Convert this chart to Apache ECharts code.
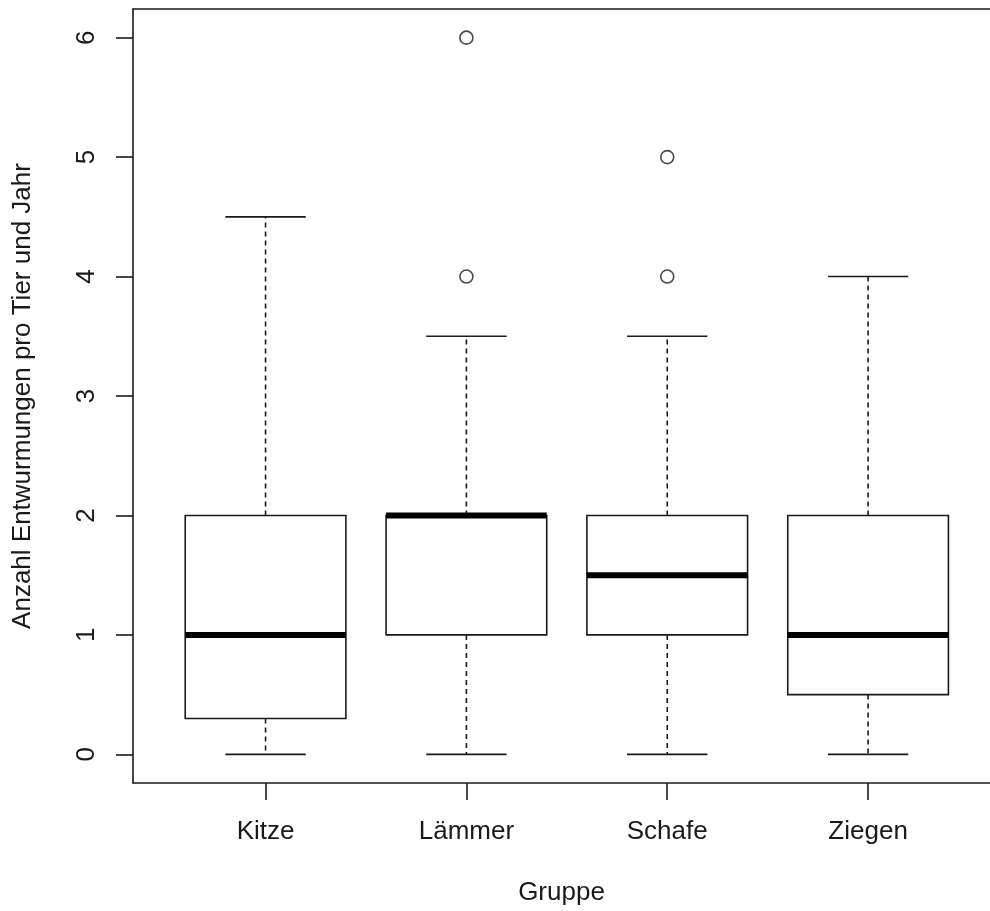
<!DOCTYPE html>
<html>
<head>
<meta charset="utf-8">
<script src="https://cdn.jsdelivr.net/npm/echarts@6/dist/echarts.min.js"></script>
<style>html,body{margin:0;padding:0;background:#fff;}#c{width:990px;height:911px;}</style>
</head>
<body>
<div id="c"></div>
<script>
const categories = ['Kitze', 'Lämmer', 'Schafe', 'Ziegen'];
const whiskerLow = [0, 0, 0, 0];
const q1 = [0.3, 1, 1, 0.5];
const median = [1, 2, 1.5, 1];
const q3 = [2, 2, 2, 2];
const whiskerHigh = [4.5, 3.5, 3.5, 4];
const outliers = [[], [4, 6], [4, 5], []];
const yTicks = [0, 1, 2, 3, 4, 5, 6];
const xTicks = [1, 2, 3, 4];
const xTitle = 'Gruppe';
const yTitle = 'Anzahl Entwurmungen pro Tier und Jahr';

const INK = '#1a1a1a';
const FONT = '"Liberation Sans", Arial, Helvetica, sans-serif';

const boxData = categories.map((c, i) => [i + 1, whiskerLow[i], q1[i], median[i], q3[i], whiskerHigh[i]]);
const outlierData = [];
outliers.forEach((arr, i) => arr.forEach(v => outlierData.push([i + 1, v])));

const chart = echarts.init(document.getElementById('c'), null, {renderer: 'canvas'});
chart.setOption({
  backgroundColor: '#fff',
  animation: false,
  grid: {left: 133, top: 9, right: 0, bottom: 128, show: false},
  xAxis: [{
    type: 'value', min: 0.34, max: 4.607, position: 'bottom',
    name: xTitle, nameLocation: 'middle', nameGap: 97,
    nameTextStyle: {fontFamily: FONT, fontSize: 26, color: INK},
    axisLine: {show: true, onZero: false, lineStyle: {color: INK, width: 1.6}},
    splitLine: {show: false},
    axisTick: {show: true, length: 17, customValues: xTicks, lineStyle: {color: INK, width: 1.6}},
    axisLabel: {customValues: xTicks, margin: 36, fontFamily: FONT, fontSize: 26, color: INK,
      formatter: v => categories[Math.round(v) - 1] || ''}
  }, {
    type: 'value', min: 0.34, max: 4.607, position: 'top',
    axisLine: {show: true, onZero: false, lineStyle: {color: INK, width: 1.6}},
    axisTick: {show: false}, axisLabel: {show: false}, splitLine: {show: false}
  }],
  yAxis: {
    type: 'value', min: -0.24, max: 6.24,
    name: yTitle, nameLocation: 'middle', nameGap: 97,
    nameTextStyle: {fontFamily: FONT, fontSize: 26, color: INK},
    axisLine: {show: true, onZero: false, lineStyle: {color: INK, width: 1.6}},
    splitLine: {show: false},
    axisTick: {show: true, length: 17, customValues: yTicks, lineStyle: {color: INK, width: 1.6}},
    axisLabel: {customValues: yTicks, rotate: 90, margin: 33, fontFamily: FONT, fontSize: 26, color: INK}
  },
  series: [
    {
      type: 'custom',
      data: boxData,
      encode: {x: 0, y: [1, 2, 3, 4, 5]},
      renderItem: function (params, api) {
        const x = api.value(0), lo = api.value(1), a = api.value(2), m = api.value(3), b = api.value(4), hi = api.value(5);
        const half = 0.4, cap = 0.2;
        const tl = api.coord([x - half, b]);
        const br = api.coord([x + half, a]);
        const mL = api.coord([x - half, m]);
        const mR = api.coord([x + half, m]);
        const c = api.coord([x, 0])[0];
        const yLo = api.coord([x, lo])[1], yHi = api.coord([x, hi])[1];
        const cl = api.coord([x - cap, 0])[0], cr = api.coord([x + cap, 0])[0];
        const lineS = {stroke: INK, lineWidth: 1.6, fill: null};
        const dashS = {stroke: INK, lineWidth: 1.6, lineDash: [5, 4], fill: null};
        return {
          type: 'group',
          children: [
            {type: 'line', shape: {x1: c, y1: tl[1], x2: c, y2: yHi}, style: dashS},
            {type: 'line', shape: {x1: c, y1: br[1], x2: c, y2: yLo}, style: dashS},
            {type: 'line', shape: {x1: cl, y1: yHi, x2: cr, y2: yHi}, style: lineS},
            {type: 'line', shape: {x1: cl, y1: yLo, x2: cr, y2: yLo}, style: lineS},
            {type: 'rect', shape: {x: tl[0], y: tl[1], width: br[0] - tl[0], height: br[1] - tl[1]}, style: {stroke: INK, lineWidth: 1.6, fill: '#fff'}},
            {type: 'line', shape: {x1: mL[0], y1: mL[1], x2: mR[0], y2: mR[1]}, style: {stroke: '#000', lineWidth: 6}}
          ]
        };
      }
    },
    {
      type: 'scatter',
      data: outlierData,
      symbol: 'circle',
      symbolSize: 13,
      itemStyle: {color: '#fff', borderColor: INK, borderWidth: 1.6}
    }
  ]
});
</script>
</body>
</html>
